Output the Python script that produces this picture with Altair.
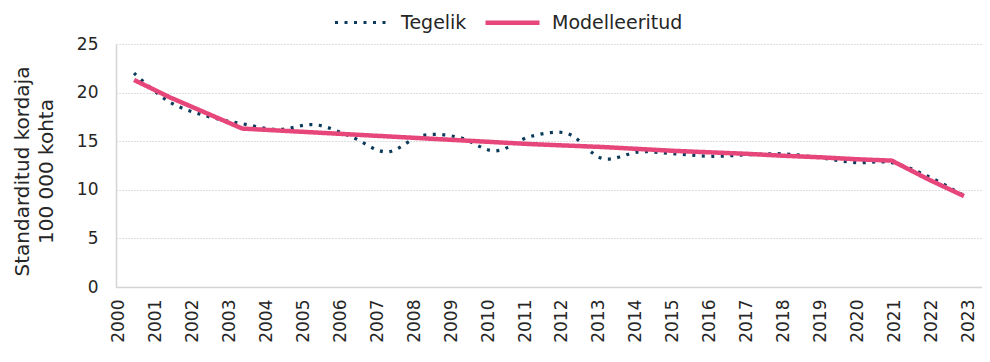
import altair as alt
import pandas as pd

# ---- data ----
years = list(range(2000, 2024))
tegelik = [22.0, 19.0, 17.6, 16.8, 16.2, 16.7, 15.5, 13.9, 15.6, 15.4, 14.0, 15.5,
           15.8, 13.2, 13.9, 13.7, 13.45, 13.6, 13.7, 13.3, 12.8, 12.8, 11.4, 9.4]
modelleeritud = [21.3, 19.5, 17.9, 16.3, 16.1, 15.9, 15.7, 15.5, 15.3, 15.1, 14.9, 14.7,
                 14.55, 14.4, 14.2, 14.0, 13.85, 13.7, 13.5, 13.35, 13.15, 13.0, 11.1, 9.35]
series_names = ["Tegelik", "Modelleeritud"]
y_ticks = [0, 5, 10, 15, 20, 25]
y_title = ["Standarditud kordaja", "100 000 kohta"]

NAVY = "#0b3a5b"
PINK = "#e6467a"
TEXT = "#262626"
FONT = "DejaVu Sans"

df_t = pd.DataFrame({"aasta": years, "väärtus": tegelik, "seeria": series_names[0]})
df_m = pd.DataFrame({"aasta": years, "väärtus": modelleeritud, "seeria": series_names[1]})
df_lab = pd.DataFrame({"aasta": years})

legend = alt.Legend(
    title=None, orient="none", legendX=217, legendY=-51, direction="horizontal",
    symbolType="stroke", symbolSize=2916, labelFontSize=19, labelFont=FONT,
    labelColor=TEXT, labelOffset=10, columnPadding=9, padding=0,
)

x_line = alt.X("aasta:Q", scale=alt.Scale(domain=[1999.5, 2023.5], nice=False, zero=False), axis=None)
y_axis = alt.Axis(
    values=y_ticks, title=y_title, grid=True, gridDash=[1, 2], gridColor="#bdbdbd",
    domainColor="#d4d4d4", domainWidth=1.5, ticks=False, labelPadding=18,
    labelFontSize=17, labelFont=FONT, labelColor=TEXT, titleFont=FONT,
    titleFontSize=20, titleFontWeight="normal", titleColor=TEXT,
    titleLineHeight=24, titlePadding=20, titleY=127, labelFlush=False,
)
y_enc = alt.Y("väärtus:Q", scale=alt.Scale(domain=[0, 25], nice=False), axis=y_axis)
color = alt.Color("seeria:N", scale=alt.Scale(domain=series_names, range=[NAVY, PINK]), legend=legend)
dash = alt.StrokeDash("seeria:N", scale=alt.Scale(domain=series_names, range=[[3, 6.5], [1, 0]]), legend=legend)
width = alt.StrokeWidth("seeria:N", scale=alt.Scale(domain=series_names, range=[3.2, 4.5]), legend=legend)

line_t = alt.Chart(df_t).mark_line(interpolate="catmull-rom").encode(
    x=x_line, y=y_enc, color=color, strokeDash=dash, strokeWidth=width
)
line_m = alt.Chart(df_m).mark_line(interpolate="linear").encode(
    x=x_line, y=y_enc, color=color, strokeDash=dash, strokeWidth=width
)

labels = alt.Chart(df_lab).mark_point(opacity=0).encode(
    x=alt.X(
        "aasta:Q",
        scale=alt.Scale(domain=[1999.919, 2023.379], nice=False, zero=False),
        axis=alt.Axis(
            values=years, format="d", labelAngle=-90, labelAlign="right",
            labelBaseline="middle", labelPadding=12, ticks=False, grid=False,
            domainColor="#d4d4d4", domainWidth=1.5, title=None, orient="bottom",
            labelOverlap=False, labelFlush=False, labelFontSize=17, labelFont=FONT,
            labelColor=TEXT,
        ),
    )
)

chart = (
    alt.layer(line_t, line_m, labels)
    .resolve_scale(x="independent")
    .properties(
        width=866, height=243,
        autosize=alt.AutoSizeParams(type="none"),
        padding={"left": 108, "top": 36, "right": 0, "bottom": 60},
    )
    .configure_view(stroke=None)
)

chart.save("out.html", embed_options={"renderer": "svg", "actions": False})
